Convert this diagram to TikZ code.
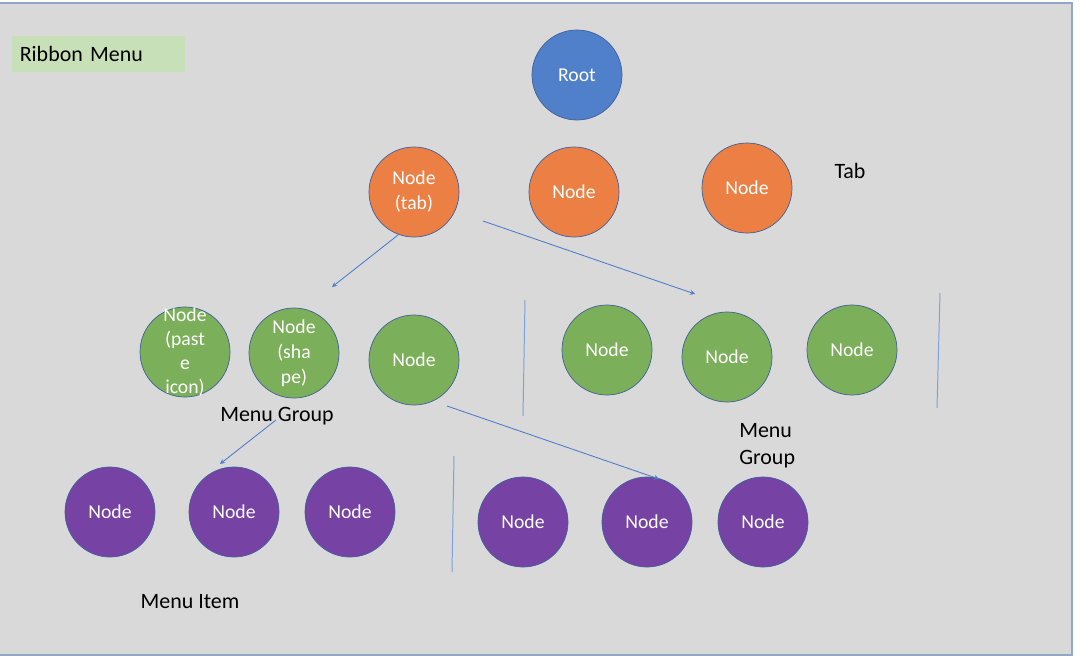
\documentclass[tikz,border=0pt]{standalone}
\usepackage{fontspec}
\setmainfont{Carlito}
\usepackage{xcolor}
\definecolor{panelgray}{HTML}{D9D9D9}
\definecolor{panelframe}{HTML}{8EA9C8}
\definecolor{ribbongreen}{HTML}{C8E0B8}
\definecolor{rootblue}{HTML}{4F80C9}
\definecolor{taborange}{HTML}{EC8044}
\definecolor{groupgreen}{HTML}{7BAF59}
\definecolor{itempurple}{HTML}{7642A4}
\definecolor{ringblue}{HTML}{41619C}
\definecolor{linkblue}{HTML}{4A7BCB}
\definecolor{sepblue}{HTML}{7EA3D8}

\begin{document}
\begin{tikzpicture}[
    x=0.025cm, y=-0.025cm,
    circ/.style={circle, draw=ringblue, line width=0.5pt, fill=#1,
                 minimum size=2.25cm, inner sep=0pt, align=center,
                 text=white, font=\fontsize{14}{17.8}\selectfont},
    inlbl/.style={align=center, text=white, inner sep=0pt,
                  font=\fontsize{14}{17.2}\selectfont},
    caption/.style={font=\fontsize{15.6}{19.2}\selectfont, align=left, inner sep=0pt},
    arrow/.style={->, >=stealth, draw=linkblue, line width=0.6pt},
    divider/.style={draw=sepblue, line width=0.7pt},
]
\useasboundingbox (0,0) rectangle (1080,664);
% panel
\fill[white] (0,0) rectangle (1080,664);
\draw[fill=panelgray, draw=panelframe, line width=0.8pt] (-2,3) rectangle (1072,655);
\node[fill=ribbongreen, minimum width=173*0.025cm, minimum height=36*0.025cm,
      text width=163*0.025cm, inner sep=0pt, align=left,
      font=\fontsize{15.6}{19}\selectfont] (ribbon) at (98.5,54) {\hspace{2pt}Ribbon Menu};

% tabs
\node[circ=rootblue] (root) at (577,75) {Root};
\node[circ=taborange] (tab1) at (414,192) {Node\\(tab)};
\node[circ=taborange] (tab2) at (574,192) {Node};
\node[circ=taborange] (tab3) at (747,188) {Node};
\node[caption] (tablbl) at (850,171) {Tab};

% menu groups
\node[circ=groupgreen, label={[inlbl]center:Node\\(past\\e\\icon)}] (grp1) at (185,352) {};
\node[circ=groupgreen] (grp2) at (294,353) {Node\\(sha\\pe)};
\node[circ=groupgreen] (grp3) at (414,360) {Node};
\node[circ=groupgreen] (grp4) at (607,350) {Node};
\node[circ=groupgreen] (grp5) at (727,357) {Node};
\node[circ=groupgreen] (grp6) at (852,350) {Node};
\node[caption] (grplbl1) at (277,416) {Menu Group};
\node[caption, anchor=west] (grplbl2) at (739,445.5) {Menu\\Group};

% menu items
\node[circ=itempurple] (item1) at (110,512) {Node};
\node[circ=itempurple] (item2) at (234,512) {Node};
\node[circ=itempurple] (item3) at (350,512) {Node};
\node[circ=itempurple] (item4) at (523,522) {Node};
\node[circ=itempurple] (item5) at (647,522) {Node};
\node[circ=itempurple] (item6) at (763,522) {Node};
\node[caption] (itemlbl) at (190,602) {Menu Item};

% dividers
\coordinate (div1a) at (525,300); \coordinate (div1b) at (523,416);
\coordinate (div2a) at (940,293); \coordinate (div2b) at (937,408);
\coordinate (div3a) at (454,456); \coordinate (div3b) at (452,572);
\draw[divider] (div1a) -- (div1b);
\draw[divider] (div2a) -- (div2b);
\draw[divider] (div3a) -- (div3b);

% arrows
\coordinate (a1end) at (332,287);
\coordinate (a2start) at (483,221);
\coordinate (a2end) at (695,294);
\coordinate (a3start) at (276,420);
\coordinate (a3end) at (220,464);
\coordinate (a4start) at (447,406);
\coordinate (a4end) at (659,479);
\draw[arrow] (tab1.250) -- (a1end);
\draw[arrow] (a2start) -- (a2end);
\draw[arrow] (a3start) -- (a3end);
\draw[arrow] (a4start) -- (a4end);
\end{tikzpicture}
\end{document}
